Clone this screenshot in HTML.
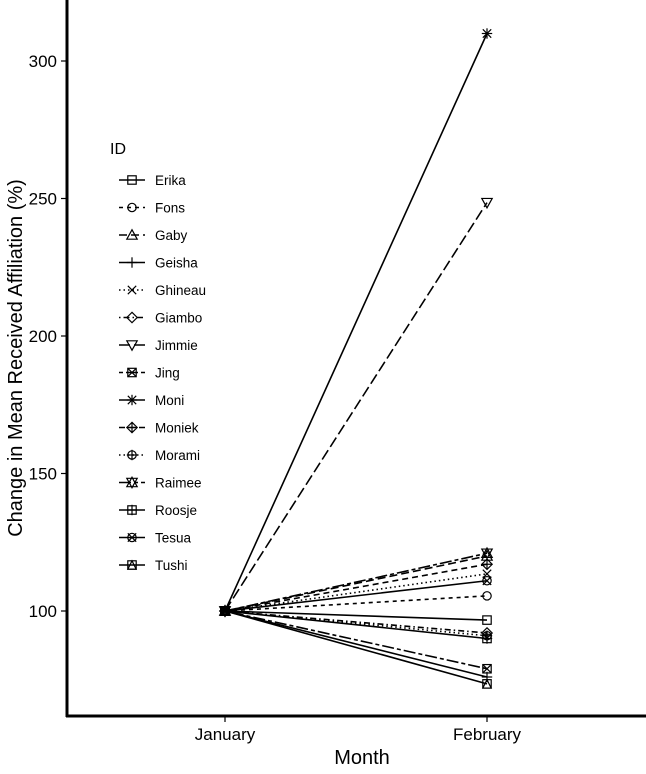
<!DOCTYPE html>
<html><head><meta charset="utf-8"><style>
body{margin:0;background:#fff;}
svg text{font-family:"Liberation Sans",sans-serif;fill:#000;}
</style></head><body>
<svg id="chart" width="646" height="769" xmlns="http://www.w3.org/2000/svg">
<g id="plot"></g>
<g id="legend"></g>
<line x1="67" y1="0" x2="67" y2="717" stroke="#000" stroke-width="3"/>
<line x1="66" y1="716" x2="646" y2="716" stroke="#000" stroke-width="3"/>
<g id="axes"></g>
<text x="362" y="764" font-size="20" text-anchor="middle">Month</text>
<text transform="translate(22,358) rotate(-90)" font-size="20" text-anchor="middle">Change in Mean Received Affiliation (%)</text>
</svg>
<script>
const ids=["Erika","Fons","Gaby","Geisha","Ghineau","Giambo","Jimmie","Jing","Moni","Moniek","Morami","Raimee","Roosje","Tesua","Tushi"];
const janValues=[100,100,100,100,100,100,100,100,100,100,100,100,100,100,100];
const febValues=[96.7,105.5,120,76,113.5,92,248.5,79,310,117,91,121,90,111,73.5];
const months=["January","February"];
const yTicks=[100,150,200,250,300];
const dashes=["","4,4","8,4","","1.5,3","1.5,3,6,3","11,4","4,3,12,3","","6,4","1.5,3","12,3,4,3","","",""];
const NS="http://www.w3.org/2000/svg";
const xPos=i=>225+i*262;
const y=v=>611-(v-100)*2.75;
function mk(t,a,p){const e=document.createElementNS(NS,t);for(const k in a)e.setAttribute(k,a[k]);p.appendChild(e);return e;}
function shape(k,cx,cy,p){const r=4.2,g=mk('g',{fill:'none',stroke:'#000','stroke-width':1.2},p);
const sq=()=>mk('rect',{x:cx-r,y:cy-r,width:2*r,height:2*r},g);
const ci=()=>mk('circle',{cx,cy,r},g);
const plus=()=>{mk('line',{x1:cx-r-1,y1:cy,x2:cx+r+1,y2:cy},g);mk('line',{x1:cx,y1:cy-r-1,x2:cx,y2:cy+r+1},g);};
const ex=()=>{mk('line',{x1:cx-r,y1:cy-r,x2:cx+r,y2:cy+r},g);mk('line',{x1:cx-r,y1:cy+r,x2:cx+r,y2:cy-r},g);};
const tri=()=>mk('polygon',{points:`${cx-r-1},${cy+r} ${cx+r+1},${cy+r} ${cx},${cy-r-1}`},g);
const dtri=()=>mk('polygon',{points:`${cx-r-1},${cy-r} ${cx+r+1},${cy-r} ${cx},${cy+r+1}`},g);
const dia=()=>mk('polygon',{points:`${cx},${cy-r-1} ${cx+r+1},${cy} ${cx},${cy+r+1} ${cx-r-1},${cy}`},g);
switch(k){case 0:sq();break;case 1:ci();break;case 2:tri();break;case 3:plus();break;case 4:ex();break;case 5:dia();break;case 6:dtri();break;case 7:sq();ex();break;case 8:plus();ex();break;case 9:dia();plus();break;case 10:ci();plus();break;case 11:tri();dtri();break;case 12:sq();plus();break;case 13:ci();ex();break;case 14:sq();mk('polygon',{points:`${cx-r},${cy+r} ${cx+r},${cy+r} ${cx},${cy-r}`},g);break;}
return g;}
const plot=document.getElementById('plot'),leg=document.getElementById('legend'),axes=document.getElementById('axes');
ids.forEach((id,i)=>{
const l=mk('line',{x1:xPos(0),y1:y(janValues[i]),x2:xPos(1),y2:y(febValues[i]),stroke:'#000','stroke-width':1.6,'stroke-dasharray':dashes[i]},plot);


const a=shape(i,xPos(0),y(janValues[i]),plot);


const b=shape(i,xPos(1),y(febValues[i]),plot);


const ly=180+i*27.5;
const g=mk('g',{},leg);


mk('line',{x1:119,y1:ly,x2:145,y2:ly,stroke:'#000','stroke-width':1.6,'stroke-dasharray':dashes[i]},g);
shape(i,132,ly,g);
const t=mk('text',{x:155,y:ly+5,'font-size':13.5},g);t.textContent=id;
});
const lt=mk('text',{x:110,y:154,'font-size':16},leg);lt.textContent='ID';


yTicks.forEach(v=>{
mk('line',{x1:61,y1:y(v),x2:67,y2:y(v),stroke:'#000','stroke-width':1.2},axes);
const t=mk('text',{x:57,y:y(v)+6,'font-size':17,'text-anchor':'end'},axes);t.textContent=v;


});
months.forEach((m,i)=>{
mk('line',{x1:xPos(i),y1:716,x2:xPos(i),y2:722,stroke:'#000','stroke-width':1.2},axes);
const t=mk('text',{x:xPos(i),y:740,'font-size':17,'text-anchor':'middle'},axes);t.textContent=m;


});
</script>
</body></html>
